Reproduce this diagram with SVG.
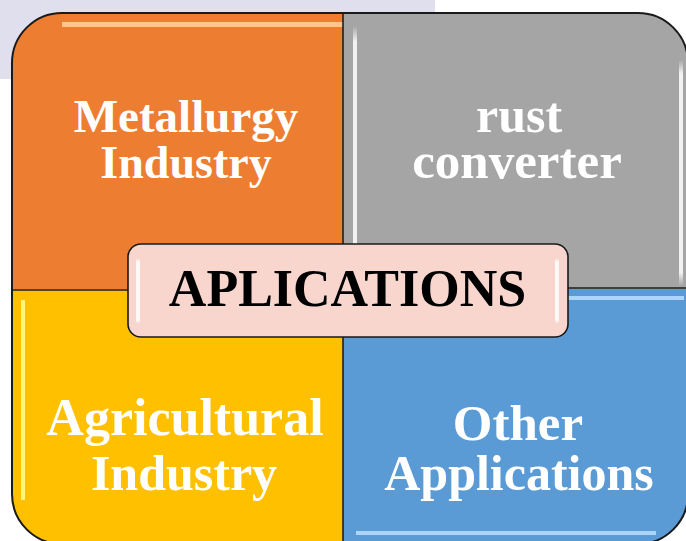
<svg xmlns="http://www.w3.org/2000/svg" width="686" height="541" viewBox="0 0 686 541">
  <style>
    .lbl { font-family: "Liberation Serif", "Times New Roman", serif; font-weight: bold; fill: #ffffff; text-anchor: middle; }
    .title { font-family: "Liberation Serif", "Times New Roman", serif; font-weight: bold; fill: #000000; text-anchor: middle; }
    .div { stroke: #1e1e1e; stroke-width: 1.6; fill: none; }
  </style>
  <defs>
    <clipPath id="frameClip">
      <rect x="12" y="13" width="676" height="531" rx="50" ry="50"/>
    </clipPath>
    <linearGradient id="hH" x1="0" y1="0" x2="1" y2="0">
      <stop offset="0" stop-color="#ffffff" stop-opacity="0"/>
      <stop offset="0.08" stop-color="#ffffff" stop-opacity="0.75"/>
      <stop offset="0.92" stop-color="#ffffff" stop-opacity="0.75"/>
      <stop offset="1" stop-color="#ffffff" stop-opacity="0"/>
    </linearGradient>
    <linearGradient id="hV" x1="0" y1="0" x2="0" y2="1">
      <stop offset="0" stop-color="#ffffff" stop-opacity="0"/>
      <stop offset="0.06" stop-color="#ffffff" stop-opacity="0.85"/>
      <stop offset="0.94" stop-color="#ffffff" stop-opacity="0.85"/>
      <stop offset="1" stop-color="#ffffff" stop-opacity="0"/>
    </linearGradient>
  </defs>

  <rect x="0" y="0" width="686" height="541" fill="#ffffff"/>
  <rect x="0" y="0" width="435" height="79" fill="#dfdfee"/>

  <g id="frame" clip-path="url(#frameClip)">
    <g id="metallurgy">
      <rect x="12" y="13" width="331" height="276" fill="#ed7d31"/>
      <rect x="62" y="22" width="281" height="5" fill="#ffd9a8" opacity="0.8"/>
      <text class="lbl" x="186" y="132" font-size="47">Metallurgy</text>
      <text class="lbl" x="186" y="178" font-size="46">Industry</text>
    </g>
    <g id="rust-converter">
      <rect x="343" y="13" width="345" height="276" fill="#a5a5a5"/>
      <rect x="353" y="26" width="4" height="260" fill="url(#hV)"/>
      <rect x="679" y="60" width="4" height="226" fill="url(#hV)"/>
      <text class="lbl" x="519" y="132" font-size="50">rust</text>
      <text class="lbl" x="517" y="178" font-size="51">converter</text>
    </g>
    <g id="agricultural">
      <rect x="12" y="289" width="331" height="255" fill="#ffc000"/>
      <rect x="21" y="300" width="4" height="200" fill="#ffff90" opacity="0.85"/>
      <text class="lbl" x="185" y="435" font-size="52">Agricultural</text>
      <text class="lbl" x="184" y="490" font-size="50">Industry</text>
    </g>
    <g id="other-applications">
      <rect x="343" y="289" width="345" height="255" fill="#5b9bd5"/>
      <rect x="356" y="296" width="328" height="4" fill="#b4dcff" opacity="0.9"/>
      <rect x="356" y="531" width="300" height="4" fill="#b4dcff" opacity="0.9"/>
      <text class="lbl" x="518" y="440" font-size="51">Other</text>
      <text class="lbl" x="519" y="490" font-size="50">Applications</text>
    </g>
    <line class="div" x1="343" y1="13" x2="343" y2="544"/>
    <line class="div" x1="12" y1="290" x2="343" y2="290"/>
    <line class="div" x1="343" y1="288" x2="688" y2="288"/>
  </g>
  <rect x="12" y="13" width="676" height="531" rx="50" ry="50" fill="none" stroke="#1a1a1a" stroke-width="2"/>

  <g id="connectors"/>

  <g id="applications">
    <rect x="128" y="244" width="440" height="93" rx="13" ry="13" fill="#f8d6cd" stroke="#1a1a1a" stroke-width="1.6"/>
    <rect x="136" y="258" width="4" height="66" rx="2" fill="url(#hV)"/>
    <rect x="555" y="258" width="4" height="66" rx="2" fill="url(#hV)"/>
    <text class="title" x="347.5" y="306" font-size="52">APLICATIONS</text>
  </g>
</svg>
